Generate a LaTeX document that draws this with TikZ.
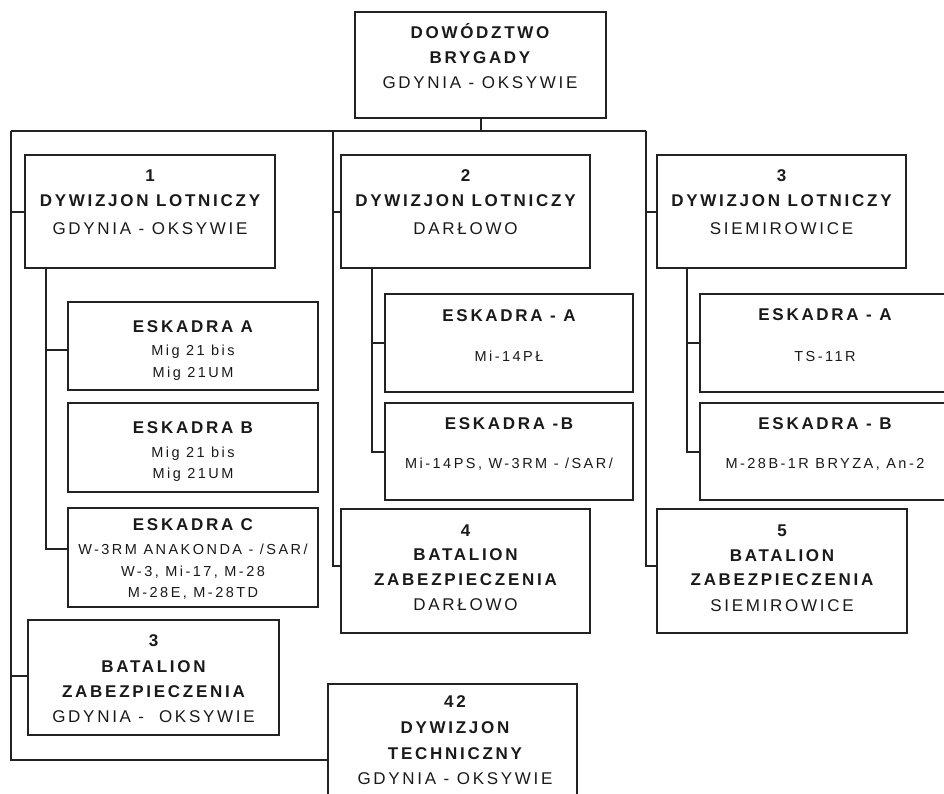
\documentclass[tikz,border=0pt]{standalone}
\usepackage{fontspec}
\setmainfont{Liberation Sans}
\newfontfamily\lsbig[LetterSpace=16]{Liberation Sans}
\newfontfamily\lssmall[LetterSpace=17]{Liberation Sans}
\definecolor{ink}{HTML}{1A1A1A}
\definecolor{linec}{HTML}{222222}
\tikzset{
  box/.style={draw=linec, line width=2pt, inner sep=0pt, outer sep=0pt, anchor=north west},
  conn/.style={draw=linec, line width=2pt},
  L/.style={inner sep=0pt, text=ink, font=\lsbig\fontsize{17}{19}\selectfont, text height=12.2pt, text depth=0pt},
  LB/.style={L, font=\lsbig\bfseries\fontsize{17}{19}\selectfont},
  S/.style={inner sep=0pt, text=ink, font=\lssmall\fontsize{14.5}{16}\selectfont, text height=10.4pt, text depth=0pt}
}
\newcommand\mkbox[5]{\node[box, minimum width={(#4-#2)*1pt}, minimum height={(#5-#3)*1pt}] (#1) at (#2,#3) {};}
\begin{document}
\begin{tikzpicture}[x=1pt,y=-1pt]
\useasboundingbox (0,0) rectangle (944,793);
\clip (0,0) rectangle (944,793);
\fill[white] (0,0) rectangle (944,793);
% boxes
\mkbox{top}{355}{12}{606}{118}
\mkbox{d1}{25}{155}{275}{268}
\mkbox{d2}{341}{155}{590}{268}
\mkbox{d3}{657}{155}{906}{268}
\mkbox{e1a}{68}{302}{318}{390}
\mkbox{e1b}{68}{403}{318}{492}
\mkbox{e1c}{68}{508}{318}{607}
\mkbox{b3}{28}{620}{279}{735}
\mkbox{e2a}{385}{294}{633}{392}
\mkbox{e2b}{385}{403}{633}{500}
\mkbox{b4}{341}{509}{590}{633}
\mkbox{e3a}{700}{294}{950}{392}
\mkbox{e3b}{700}{403}{950}{500}
\mkbox{b5}{657}{509}{907}{633}
\mkbox{d42}{328}{684}{577}{812}
% bus coordinates
\coordinate (busL) at (11,131);
\coordinate (busM) at (333,131);
\coordinate (busR) at (646,131);
\coordinate (c42) at (11,760);
% connectors
\draw[conn] (top.south) -- (top.south |- busL);
\draw[conn] (busL) -- (busR);
\draw[conn] (busL) -- (c42) -- (c42 -| d42.west);
\draw[conn] (d1.west) -- (d1.west -| busL);
\draw[conn] ([yshift=2pt]b3.west) -- ([yshift=2pt]b3.west -| busL);
\draw[conn] (busM) |- ([yshift=5pt]b4.west);
\draw[conn] (d2.west) -- (d2.west -| busM);
\draw[conn] (busR) |- ([yshift=5pt]b5.west);
\draw[conn] (d3.west) -- (d3.west -| busR);
\draw[conn] ([xshift=21pt]d1.south west) |- ([yshift=9pt]e1c.west);
\draw[conn] ([xshift=21pt]d1.south west) |- ([yshift=-4pt]e1a.west);
\draw[conn] ([xshift=31pt]d2.south west) |- (e2b.west);
\draw[conn] ([xshift=31pt]d2.south west) |- (e2a.west);
\draw[conn] ([xshift=30pt]d3.south west) |- (e3b.west);
\draw[conn] ([xshift=30pt]d3.south west) |- (e3a.west);
% texts
\node[LB] (ttop1) at (480,32) {DOWÓDZTWO};
\node[LB] (ttop2) at (480,57) {BRYGADY};
\node[L]  (ttop3) at (480,82) {GDYNIA - OKSYWIE};
\node[LB] (td1a) at (150,175) {1};
\node[LB] (td1b) at (150,200) {DYWIZJON LOTNICZY};
\node[L]  (td1c) at (150,228) {GDYNIA - OKSYWIE};
\node[LB] (td2a) at (465.5,175) {2};
\node[LB] (td2b) at (465.5,200) {DYWIZJON LOTNICZY};
\node[L]  (td2c) at (465.5,228) {DARŁOWO};
\node[LB] (td3a) at (781.5,175) {3};
\node[LB] (td3b) at (781.5,200) {DYWIZJON LOTNICZY};
\node[L]  (td3c) at (781.5,228) {SIEMIROWICE};
\node[LB] (te1a1) at (193,326) {ESKADRA A};
\node[S]  (te1a2) at (193,350) {Mig 21 bis};
\node[S]  (te1a3) at (193,372) {Mig 21UM};
\node[LB] (te1b1) at (193,427) {ESKADRA B};
\node[S]  (te1b2) at (193,452) {Mig 21 bis};
\node[S]  (te1b3) at (193,473) {Mig 21UM};
\node[LB] (te1c1) at (193,524) {ESKADRA C};
\node[S]  (te1c2) at (193,549) {W-3RM ANAKONDA - /SAR/};
\node[S]  (te1c3) at (193,571) {W-3, Mi-17, M-28};
\node[S]  (te1c4) at (193,592) {M-28E, M-28TD};
\node[LB] (tb3a) at (153.5,640) {3};
\node[LB] (tb3b) at (153.5,666) {BATALION};
\node[LB] (tb3c) at (153.5,691) {ZABEZPIECZENIA};
\node[L]  (tb3d) at (153.5,716) {GDYNIA -\ \ OKSYWIE};
\node[LB] (te2a1) at (509,315) {ESKADRA - A};
\node[S]  (te2a2) at (509,356) {Mi-14PŁ};
\node[LB] (te2b1) at (509,423) {ESKADRA -B};
\node[S]  (te2b2) at (509,463) {Mi-14PS, W-3RM - /SAR/};
\node[LB] (tb4a) at (465.5,530) {4};
\node[LB] (tb4b) at (465.5,554) {BATALION};
\node[LB] (tb4c) at (465.5,579) {ZABEZPIECZENIA};
\node[L]  (tb4d) at (465.5,604) {DARŁOWO};
\node[LB] (te3a1) at (825,314) {ESKADRA - A};
\node[S]  (te3a2) at (825,356) {TS-11R};
\node[LB] (te3b1) at (825,423) {ESKADRA - B};
\node[S]  (te3b2) at (825,463) {M-28B-1R BRYZA, An-2};
\node[LB] (tb5a) at (782,530) {5};
\node[LB] (tb5b) at (782,555) {BATALION};
\node[LB] (tb5c) at (782,579) {ZABEZPIECZENIA};
\node[L]  (tb5d) at (782,605) {SIEMIROWICE};
\node[LB] (t42a) at (455,701) {42};
\node[LB] (t42b) at (455,727) {DYWIZJON};
\node[LB] (t42c) at (455,753) {TECHNICZNY};
\node[L]  (t42d) at (455,778) {GDYNIA - OKSYWIE};
\end{tikzpicture}
\end{document}
